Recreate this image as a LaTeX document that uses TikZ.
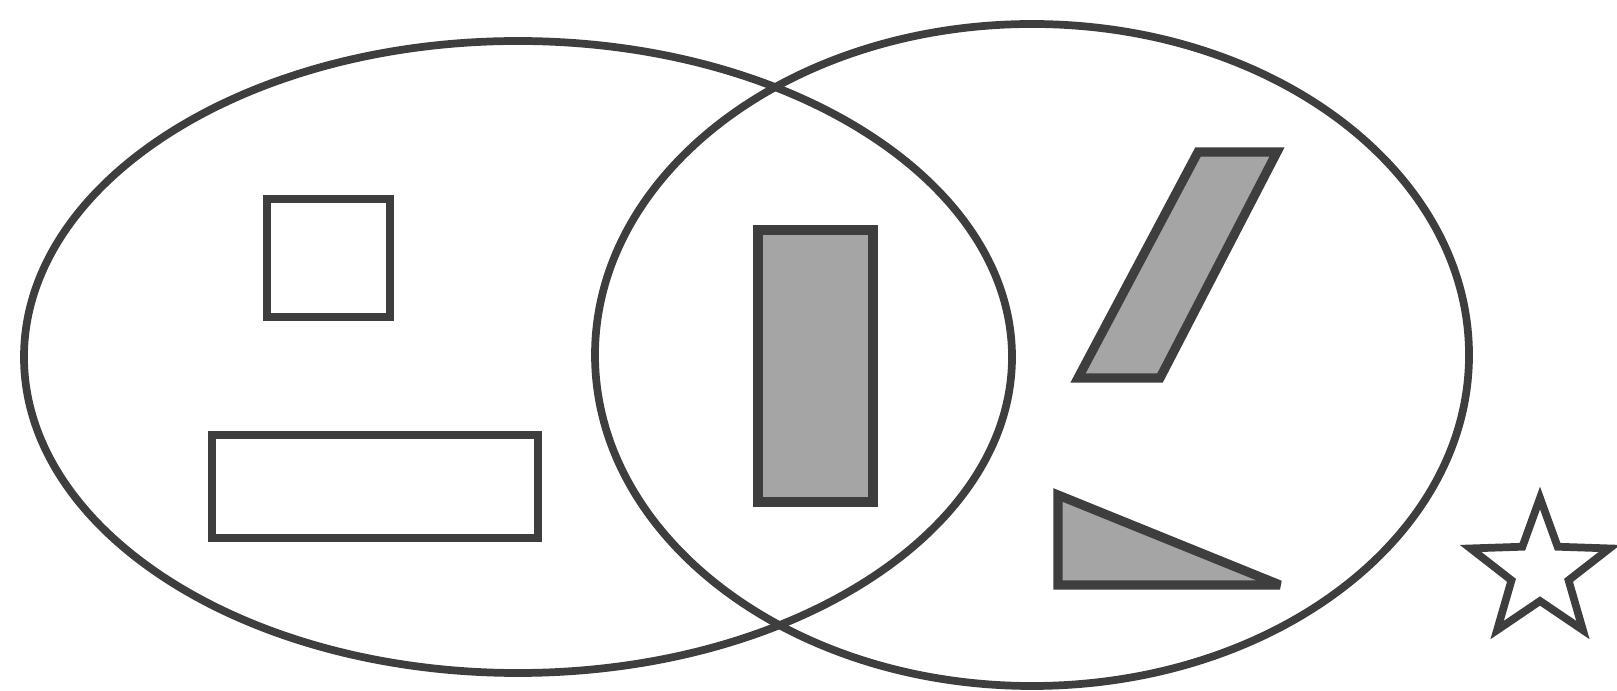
\documentclass[tikz,border=0pt]{standalone}
\usepackage{xcolor}
\usepackage{tikz}
\usetikzlibrary{positioning,shapes.geometric,calc}
\definecolor{ink}{RGB}{62,62,62}
\definecolor{shade}{RGB}{165,165,165}

\begin{document}
\begin{tikzpicture}[
  set/.style={ellipse, draw=ink, line width=2.2pt, inner sep=0pt},
  plain/.style={rectangle, draw=ink, fill=white, line width=2.3pt, inner sep=0pt},
  solid/.style={draw=ink, fill=shade, line width=2.6pt, line join=miter, miter limit=3}
]
  \useasboundingbox (0,0) rectangle (16.17,6.90);

  % the two sets
  \node[set, minimum width=9.88cm, minimum height=6.32cm] (setA) at (5.18,3.33) {};
  \node[set, minimum width=8.74cm, minimum height=6.62cm] (setB) at (10.32,3.35) {};

  % shapes in A only
  \node[plain, minimum width=1.23cm, minimum height=1.18cm] (sq) at (3.285,4.32) {};
  \node[plain, minimum width=3.26cm, minimum height=1.03cm] (wide) at (3.75,2.035) {};

  % shape in both
  \node[plain, solid, minimum width=1.15cm, minimum height=2.72cm] (tall) at (8.155,3.24) {};

  % shapes in B only
  \draw[solid] (11.98,5.38) -- (12.77,5.38) -- (11.60,3.12) -- (10.78,3.12) -- cycle;
  \draw[solid] (10.58,1.95) -- (10.58,1.05) -- (12.80,1.05) -- cycle;

  % outside both
  \coordinate (st) at (15.40,1.19);
  \draw[draw=ink, fill=white, line width=2.2pt, line join=miter]
    ($(st)+(90:0.73)$)
    -- ($(st)+(126:0.30)$) -- ($(st)+(162:0.73)$)
    -- ($(st)+(198:0.30)$) -- ($(st)+(234:0.73)$)
    -- ($(st)+(270:0.30)$) -- ($(st)+(306:0.73)$)
    -- ($(st)+(342:0.30)$) -- ($(st)+(18:0.73)$)
    -- ($(st)+(54:0.30)$) -- cycle;
\end{tikzpicture}
\end{document}
